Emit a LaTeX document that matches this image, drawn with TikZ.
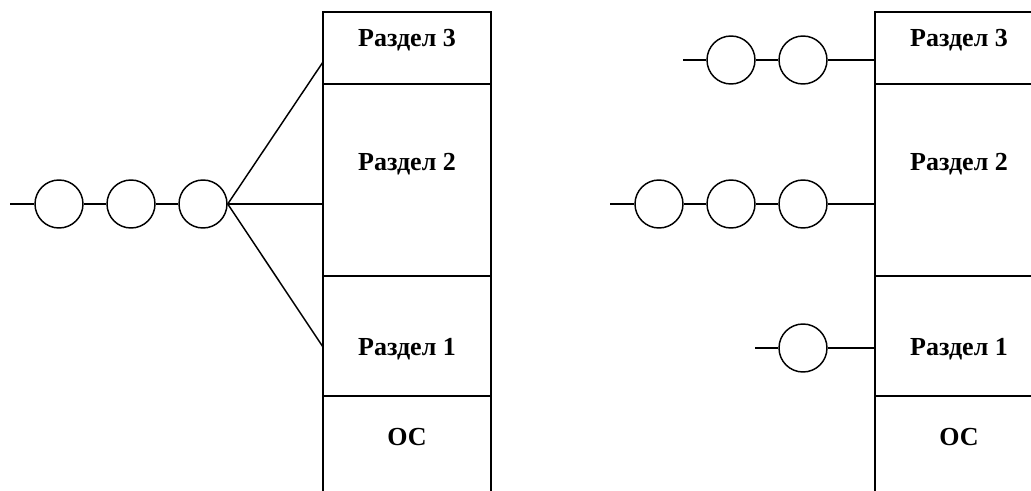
\documentclass[tikz,border=0pt]{standalone}
\usepackage{fontspec}
\setmainfont{Liberation Serif}
\begin{document}
\begin{tikzpicture}[x=0.75pt,y=-0.75pt,
  line width=1.1pt,
  ring/.style={circle,draw,minimum size=48*0.75pt,inner sep=0pt,line width=1.1pt},
  label/.style={anchor=base,font=\fontsize{19.5}{21}\selectfont\bfseries,inner sep=0pt}]
\useasboundingbox (0,0) rectangle (1031,491);
% ---- left partition box
\draw (323,491) -- (323,12) -- (491,12) -- (491,491);
\draw (323,84) -- (491,84);
\draw (323,276) -- (491,276);
\draw (323,396) -- (491,396);
\node[label] (L3) at (407,47) {Раздел 3};
\node[label] (L2) at (407,171) {Раздел 2};
\node[label] (L1) at (407,355) {Раздел 1};
\node[label] (LO) at (407,445) {ОС};
\coordinate (lp3) at (323,62);
\coordinate (lp2) at (323,204);
\coordinate (lp1) at (323,347);
% ---- left queue
\coordinate (lin) at (10,204);
\node[ring] (a1) at (59,204) {};
\node[ring] (a2) at (131,204) {};
\node[ring] (a3) at (203,204) {};
\draw (lin) -- (a1) -- (a2) -- (a3);
\draw (a3.east) -- (lp3);
\draw (a3.east) -- (lp2);
\draw (a3.east) -- (lp1);
% ---- right partition box
\draw (875,491) -- (875,12) -- (1043,12) -- (1043,491);
\draw (875,84) -- (1043,84);
\draw (875,276) -- (1043,276);
\draw (875,396) -- (1043,396);
\node[label] (R3) at (959,47) {Раздел 3};
\node[label] (R2) at (959,171) {Раздел 2};
\node[label] (R1) at (959,355) {Раздел 1};
\node[label] (RO) at (959,445) {ОС};
\coordinate (rp3) at (875,60);
\coordinate (rp2) at (875,204);
\coordinate (rp1) at (875,348);
% ---- right queues
\coordinate (rin3) at (683,60);
\node[ring] (b1) at (731,60) {};
\node[ring] (b2) at (803,60) {};
\draw (rin3) -- (b1) -- (b2) -- (rp3);
\coordinate (rin2) at (610,204);
\node[ring] (c1) at (659,204) {};
\node[ring] (c2) at (731,204) {};
\node[ring] (c3) at (803,204) {};
\draw (rin2) -- (c1) -- (c2) -- (c3) -- (rp2);
\coordinate (rin1) at (755,348);
\node[ring] (d1) at (803,348) {};
\draw (rin1) -- (d1) -- (rp1);
\end{tikzpicture}
\end{document}
